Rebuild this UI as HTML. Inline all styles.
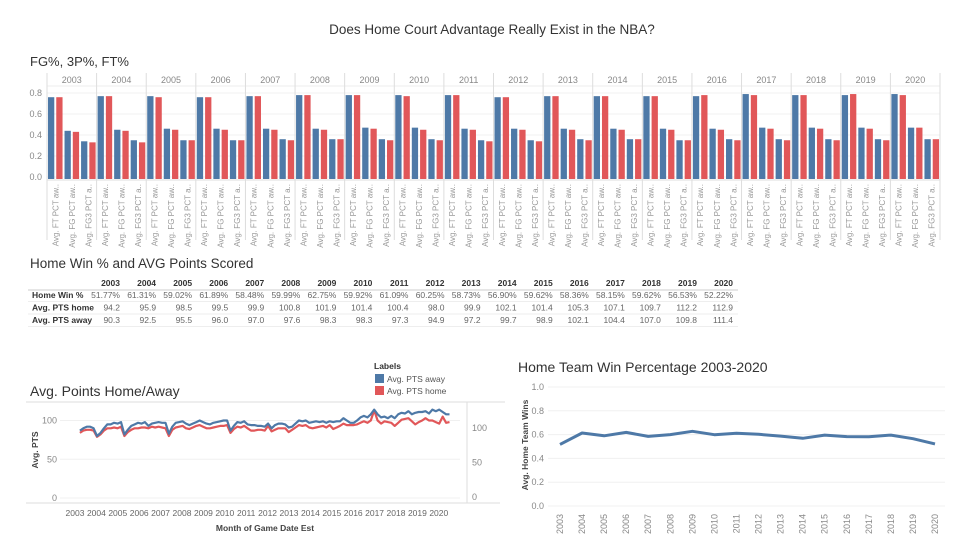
<!DOCTYPE html>
<html><head><meta charset="utf-8"><style>
html,body{margin:0;padding:0;background:#fff;}
svg{display:block;font-family:"Liberation Sans",sans-serif;}
.tick{font-size:9px;fill:#888;}
</style></head><body>
<svg id="svg" width="960" height="540" viewBox="0 0 960 540">
<text x="492" y="34" text-anchor="middle" font-size="13.5" fill="#333">Does Home Court Advantage Really Exist in the NBA?</text>
<text x="30" y="66" font-size="13" fill="#333">FG%, 3P%, FT%</text>
<g id="bars"></g>
<text x="30" y="268" font-size="13.5" fill="#333">Home Win % and AVG Points Scored</text>
<g id="table"></g>
<text x="30" y="396" font-size="14" fill="#333">Avg. Points Home/Away</text>
<g id="pts"></g>
<g>
<text x="374" y="369" font-size="8.5" font-weight="bold" fill="#333">Labels</text>
<rect x="375" y="374" width="9" height="9" fill="#4e79a7"/>
<text x="387" y="382" font-size="8.5" fill="#555">Avg. PTS away</text>
<rect x="375" y="386" width="9" height="9" fill="#e15759"/>
<text x="387" y="394" font-size="8.5" fill="#555">Avg. PTS home</text>
</g>
<text x="518" y="372" font-size="14" fill="#333">Home Team Win Percentage 2003-2020</text>
<g id="win"></g>
</svg>
<script>
const NS="http://www.w3.org/2000/svg";
function mk(parent,tag,attrs,text){const e=document.createElementNS(NS,tag);for(const k in attrs)e.setAttribute(k,attrs[k]);if(text!==undefined)e.textContent=text;parent.appendChild(e);return e;}

const years=[2003,2004,2005,2006,2007,2008,2009,2010,2011,2012,2013,2014,2015,2016,2017,2018,2019,2020];
const measureGroups=["Avg. FT PCT aw..","Avg. FG PCT aw..","Avg. FG3 PCT a.."];
const ftAway=[.76,.77,.77,.76,.77,.78,.78,.78,.78,.76,.77,.77,.77,.77,.79,.78,.78,.79];
const ftHome=[.76,.77,.76,.76,.77,.78,.78,.77,.78,.76,.77,.77,.77,.78,.78,.78,.79,.78];
const fgAway=[.44,.45,.46,.46,.46,.46,.47,.47,.46,.46,.46,.46,.46,.46,.47,.47,.47,.47];
const fgHome=[.43,.44,.45,.45,.45,.45,.46,.45,.45,.45,.45,.45,.45,.45,.46,.46,.46,.47];
const fg3Away=[.34,.35,.35,.35,.36,.36,.36,.36,.35,.35,.36,.36,.35,.36,.36,.36,.36,.36];
const fg3Home=[.33,.33,.35,.35,.35,.36,.35,.35,.34,.34,.35,.36,.35,.35,.35,.35,.35,.36];
const barTicks=[0,0.2,0.4,0.6,0.8];

const homeWinPct=[51.77,61.31,59.02,61.89,58.48,59.99,62.75,59.92,61.09,60.25,58.73,56.90,59.62,58.36,58.15,59.62,56.53,52.22];
const ptsHome=[94.2,95.9,98.5,99.5,99.9,100.8,101.9,101.4,100.4,98.0,99.9,102.1,101.4,105.3,107.1,109.7,112.2,112.9];
const ptsAway=[90.3,92.5,95.5,96.0,97.0,97.6,98.3,98.3,97.3,94.9,97.2,99.7,98.9,102.1,104.4,107.0,109.8,111.4];

const monthlyAway=[87,90,92,92,90,80,84,90,95,95,97,96,98,82,88,93,95,97,96,98,93,96,97,98,97,97,83,92,97,98,99,96,94,96,98,100,98,96,95,97,98,99,100,100,87,93,98,97,99,95,94,94,93,93,92,96,90,94,96,96,95,91,92,96,100,99,100,97,98,99,98,99,97,99,98,99,99,103,100,97,97,100,104,106,104,108,114,108,104,105,103,106,103,108,110,109,112,108,110,111,111,112,109,114,112,114,111,108,108];
const monthlyHome=[84,87,88,88,87,79,82,87,90,90,91,90,92,80,85,88,90,90,91,91,90,92,91,92,91,90,80,88,91,92,93,90,89,91,93,94,92,90,90,91,92,93,93,94,84,89,92,91,93,90,87,87,88,88,87,93,86,88,90,90,90,85,88,91,94,93,94,91,90,91,92,93,91,94,89,91,93,96,94,94,94,95,97,99,97,100,113,100,96,99,98,97,93,97,101,102,103,99,95,98,100,103,100,100,98,96,105,97,98];
const ptsTicks=[0,50,100];
const ptsRightTicks=[0,50,100];
const winTicks=[0,0.2,0.4,0.6,0.8,1.0];

const BLUE="#4e79a7",RED="#e15759";

// ---------- bar chart ----------
(function(){
 const g=document.getElementById('bars');
 const x0=47,x1=940,pw=(x1-x0)/years.length;
 const y=v=>177-v*105;
 const series=[ftAway,ftHome,fgAway,fgHome,fg3Away,fg3Home];
 const cols=[BLUE,RED,BLUE,RED,BLUE,RED];
 barTicks.forEach(t=>{
  const l=mk(g,'line',{x1:x0,x2:x1,y1:y(t),y2:y(t),stroke:'#f0f0f0'});
  
  
  const tx=mk(g,'text',{x:42,y:y(t)+3,'text-anchor':'end',class:'tick'},t.toFixed(1));
  
  
 });
 const hb=mk(g,'line',{x1:x0,x2:x1,y1:86,y2:86,stroke:'#eee'});
 
 
 years.forEach((yr,i)=>{
  const px=x0+i*pw;
  const sep=mk(g,'line',{x1:px,x2:px,y1:73,y2:240,stroke:'#ddd'});
  
  
  const ht=mk(g,'text',{x:px+pw/2,y:83,'text-anchor':'middle',class:'tick',fill:'#666'},String(yr));
  
  
  const bw=pw/6;
  series.forEach((s,j)=>{
   const bx=px+j*bw+bw*0.12;
   const r=mk(g,'rect',{x:bx,y:y(s[i]),width:bw*0.76,height:y(0)-y(s[i])+2,fill:cols[j]});
   
   
  });
  measureGroups.forEach((m,k)=>{
   const cx=px+(2*k+1)*bw+3;
   const lt=mk(g,'text',{x:cx,y:184,'text-anchor':'end','font-size':'8',fill:'#999',transform:`rotate(-90 ${cx} 184)`},m);
   
   
  });
 });
 const last=mk(g,'line',{x1:x1,x2:x1,y1:73,y2:240,stroke:'#ddd'});
 
 
 const ax=mk(g,'line',{x1:x0,x2:x1,y1:180,y2:180,stroke:'#ddd'});
 
 
})();

// ---------- table ----------
(function(){
 const g=document.getElementById('table');
 const rx=i=>120+i*36.06;
 const rows=[["Home Win %",homeWinPct.map(v=>v.toFixed(2)+"%")],["Avg. PTS home",ptsHome.map(v=>v.toFixed(1))],["Avg. PTS away",ptsAway.map(v=>v.toFixed(1))]];
 years.forEach((yr,i)=>{
  const t=mk(g,'text',{x:rx(i),y:286,'text-anchor':'end','font-size':'8.5','font-weight':'bold',fill:'#333'},String(yr));
  
  
 });
 const hl=mk(g,'line',{x1:28,x2:738,y1:290,y2:290,stroke:'#ccc'});
 
 
 rows.forEach((r,k)=>{
  const yy=298+k*12.5;
  const lb=mk(g,'text',{x:32,y:yy,'font-size':'8.5','font-weight':'bold',fill:'#333'},r[0]);
  
  
  r[1].forEach((v,i)=>{
   const c=mk(g,'text',{x:rx(i),y:yy,'text-anchor':'end','font-size':'8.5',fill:'#666'},v);
   
   
  });
  const ln=mk(g,'line',{x1:28,x2:738,y1:yy+3.5,y2:yy+3.5,stroke:'#eee'});
  
  
 });
})();

// ---------- points line chart ----------
(function(){
 const g=document.getElementById('pts');
 const y=v=>498-v*0.775;
 const yr2=v=>497-v*0.69;
 const xy=t=>75+(t-2003)*21.4;
 const px0=60,px1=460;
 ptsTicks.forEach(t=>{
  const l=mk(g,'line',{x1:px0,x2:px1,y1:y(t),y2:y(t),stroke:'#f0f0f0'});
  
  
  const tx=mk(g,'text',{x:57,y:y(t)+3,'text-anchor':'end',class:'tick'},String(t));
  
  
 });
 ptsRightTicks.forEach(t=>{
  const tx=mk(g,'text',{x:472,y:yr2(t)+3,class:'tick'},String(t));
  
  
 });
 [[26,402,505,402],[26,503,500,503],[467,402,467,503]].forEach(a=>{
  const l=mk(g,'line',{x1:a[0],y1:a[1],x2:a[2],y2:a[3],stroke:'#ddd'});
  
  
 });
 const at=mk(g,'text',{x:38,y:450,'text-anchor':'middle','font-size':'8.5','font-weight':'bold',fill:'#444',transform:'rotate(-90 38 450)'},'Avg. PTS');
 
 
 years.forEach(yr=>{
  const t=mk(g,'text',{x:xy(yr),y:516,'text-anchor':'middle','font-size':'8.5',fill:'#666'},String(yr));
  
  
 });
 const xt=mk(g,'text',{x:265,y:531,'text-anchor':'middle','font-size':'8.5','font-weight':'bold',fill:'#444'},'Month of Game Date Est');
 
 
 const t0=2003.23,t1=2020.5;
 function line(arr,col,name){
  const n=arr.length;
  const pts=arr.map((v,i)=>xy(t0+(t1-t0)*i/(n-1)).toFixed(1)+','+y(v).toFixed(1)).join(' ');
  const p=mk(g,'polyline',{points:pts,fill:'none',stroke:col,'stroke-width':2.2,'stroke-linejoin':'round'});
  
  
 }
 line(monthlyHome,RED,'pts-home-line');
 line(monthlyAway,BLUE,'pts-away-line');
})();

// ---------- win % chart ----------
(function(){
 const g=document.getElementById('win');
 const y=v=>506-v*119;
 const xy=i=>560+i*22.06;
 winTicks.forEach(t=>{
  const l=mk(g,'line',{x1:548,x2:945,y1:y(t),y2:y(t),stroke:'#f0f0f0'});
  
  
  const tx=mk(g,'text',{x:544,y:y(t)+3,'text-anchor':'end',class:'tick'},t.toFixed(1));
  
  
 });
 const at=mk(g,'text',{x:528,y:445,'text-anchor':'middle','font-size':'8.5','font-weight':'bold',fill:'#444',transform:'rotate(-90 528 445)'},'Avg. Home Team Wins');
 
 
 years.forEach((yr,i)=>{
  const cx=xy(i)+3;
  const t=mk(g,'text',{x:cx,y:514,'text-anchor':'end',class:'tick',transform:`rotate(-90 ${cx} 514)`},String(yr));
  
  
 });
 const pts=homeWinPct.map((v,i)=>xy(i).toFixed(1)+','+y(v/100).toFixed(1)).join(' ');
 const p=mk(g,'polyline',{points:pts,fill:'none',stroke:BLUE,'stroke-width':3,'stroke-linejoin':'round'});
 
 
})();
</script>
</body></html>
